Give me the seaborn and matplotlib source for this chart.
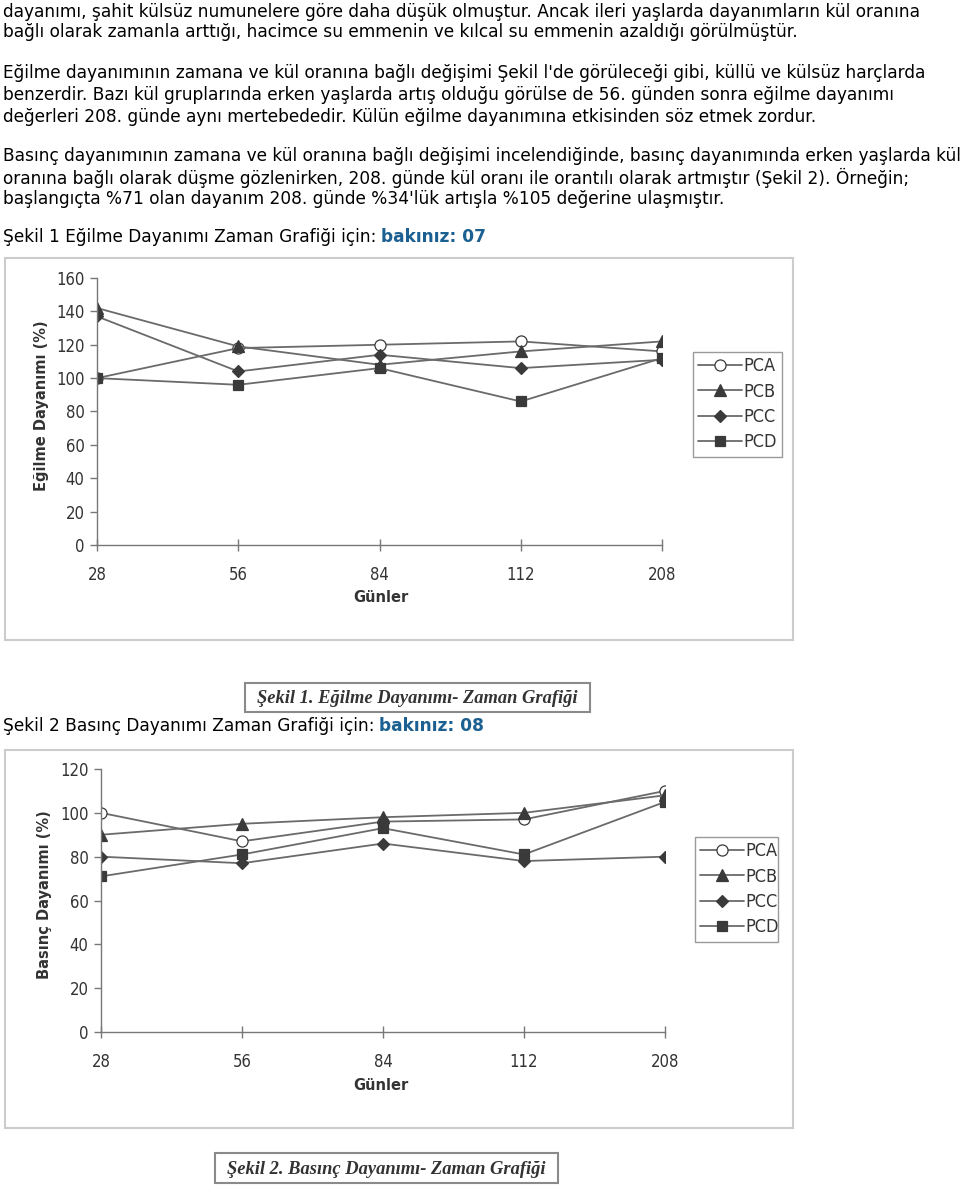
import numpy as np
import pandas as pd
import matplotlib
matplotlib.use("Agg")
import matplotlib.pyplot as plt
import seaborn as sns
from matplotlib.patches import Rectangle

W, H = 960, 1191

# Days (categorical x axis)
gunler = ["28", "56", "84", "112", "208"]
seriler = ["PCA", "PCB", "PCC", "PCD"]

# Şekil 1 - Eğilme dayanımı (%)
egilme_pca = [100, 118, 120, 122, 116]
egilme_pcb = [142, 119, 108, 116, 122]
egilme_pcc = [137, 104, 114, 106, 111]
egilme_pcd = [100, 96, 106, 86, 112]

# Şekil 2 - Basınç dayanımı (%)
basinc_pca = [100, 87, 96, 97, 110]
basinc_pcb = [90, 95, 98, 100, 108]
basinc_pcc = [80, 77, 86, 78, 80]
basinc_pcd = [71, 81, 93, 81, 105]

paragraphs = [
    (12, "dayanımı, şahit külsüz numunelere göre daha düşük olmuştur. Ancak ileri yaşlarda dayanımların kül oranına"),
    (32, "bağlı olarak zamanla arttığı, hacimce su emmenin ve kılcal su emmenin azaldığı görülmüştür."),
    (73, "Eğilme dayanımının zamana ve kül oranına bağlı değişimi Şekil l'de görüleceği gibi, küllü ve külsüz harçlarda"),
    (95, "benzerdir. Bazı kül gruplarında erken yaşlarda artış olduğu görülse de 56. günden sonra eğilme dayanımı"),
    (117, "değerleri 208. günde aynı mertebededir. Külün eğilme dayanımına etkisinden söz etmek zordur."),
    (156, "Basınç dayanımının zamana ve kül oranına bağlı değişimi incelendiğinde, basınç dayanımında erken yaşlarda kül"),
    (178, "oranına bağlı olarak düşme gözlenirken, 208. günde kül oranı ile orantılı olarak artmıştır (Şekil 2). Örneğin;"),
    (199, "başlangıçta %71 olan dayanım 208. günde %34'lük artışla %105 değerine ulaşmıştır."),
]

sns.set_theme(style="white")
plt.rcParams["font.family"] = ["DejaVu Sans"]

fig = plt.figure(figsize=(W / 100, H / 100), dpi=100)


def fx(x):
    return x / W


def fy(y):
    return 1 - y / H


BODY_SIZE = 12.25
body = dict(fontsize=BODY_SIZE, color="black", va="center", ha="left", family="DejaVu Sans")
for y, line in paragraphs:
    fig.text(fx(3), fy(y), line, **body)


def link_line(y, label, link):
    t = fig.text(fx(3), fy(y), label, **body)
    fig.canvas.draw()
    bb = t.get_window_extent()
    fig.text(bb.x1 / W + fx(5), fy(y), link, fontsize=BODY_SIZE, color="#1c5f91",
             fontweight="bold", va="center", ha="left", family="DejaVu Sans")


link_line(237, "Şekil 1 Eğilme Dayanımı Zaman Grafiği için:", "bakınız: 07")
link_line(726, "Şekil 2 Basınç Dayanımı Zaman Grafiği için:", "bakınız: 08")

narrow = dict(family="DejaVu Sans", stretch="condensed")
line_col = "#6a6a6a"
mark_col = "#3a3a3a"
styles = {
    "PCA": dict(marker="o", markerfacecolor="white", markersize=8),
    "PCB": dict(marker="^", markerfacecolor=mark_col, markersize=8),
    "PCC": dict(marker="D", markerfacecolor=mark_col, markersize=6),
    "PCD": dict(marker="s", markerfacecolor=mark_col, markersize=7.5),
}


def chart(left, right, top, bottom, ymax, ystep, values, ylabel, ylab_x, leg_box, frame):
    # scanned picture frame
    fx0, fy0, fx1, fy1 = frame
    fig.patches.append(Rectangle((fx(fx0), fy(fy1)), fx(fx1 - fx0), (fy1 - fy0) / H,
                                 transform=fig.transFigure, fill=False,
                                 edgecolor="#cccccc", linewidth=1.5))
    ax = fig.add_axes([fx(left), fy(bottom), fx(right - left), (bottom - top) / H])
    df = pd.DataFrame({
        "Günler": gunler * len(seriler),
        "Değer": np.concatenate(values),
        "Seri": np.repeat(seriler, len(gunler)),
    })
    for s in seriler:
        sns.lineplot(data=df[df["Seri"] == s], x="Günler", y="Değer", ax=ax,
                     color=line_col, linewidth=1.3, markeredgecolor=mark_col,
                     markeredgewidth=0.9, label=s, **styles[s])
    ax.set_xlim(0, len(gunler) - 1)
    ax.set_ylim(0, ymax)
    ax.set_yticks(np.arange(0, ymax + 1, ystep))
    ax.set_facecolor("none")
    for sp in ["top", "right"]:
        ax.spines[sp].set_visible(False)
    for sp in ["left", "bottom"]:
        ax.spines[sp].set_color("#777777")
        ax.spines[sp].set_linewidth(1.0)
    ax.tick_params(axis="x", direction="inout", length=8, width=1, color="#777777",
                   pad=11, labelsize=12, labelcolor="#333333", bottom=True)
    ax.tick_params(axis="y", direction="out", length=5, width=1, color="#777777",
                   pad=4, labelsize=12, labelcolor="#333333", left=True)
    for lab in ax.get_xticklabels() + ax.get_yticklabels():
        lab.set_family(narrow["family"])
        lab.set_stretch(narrow["stretch"])
    ax.set_xlabel("")
    ax.set_ylabel("")
    fig.text(fx(381), fy(bottom + 53), "Günler", fontsize=10.5, fontweight="bold",
             color="#333333", ha="center", va="center", family="DejaVu Sans")
    fig.text(fx(ylab_x), (fy(top) + fy(bottom)) / 2 + 0.005, ylabel, fontsize=10.5,
             fontweight="bold", color="#333333", rotation=90, ha="center", va="center",
             family="DejaVu Sans")
    lx0, ly0, lx1, ly1 = leg_box
    leg = ax.legend(loc="upper left", bbox_to_anchor=(fx(lx0), fy(ly0), fx(lx1 - lx0), (ly1 - ly0) / H),
                    bbox_transform=fig.transFigure, mode="expand", frameon=True, fancybox=False,
                    edgecolor="#9a9a9a", framealpha=1, borderpad=0.3, labelspacing=0.4,
                    handlelength=2.4, handletextpad=0.1, borderaxespad=0,
                    prop={"family": narrow["family"], "stretch": narrow["stretch"], "size": 13})
    leg.get_frame().set_linewidth(1.0)
    for t in leg.get_texts():
        t.set_color("#333333")
    return ax


chart(97, 662, 278, 545, 160, 20,
      [egilme_pca, egilme_pcb, egilme_pcc, egilme_pcd],
      "Eğilme Dayanımı (%)", 42, (693, 452, 782, 552), (5, 258, 793, 640))
chart(101, 665, 769, 1032, 120, 20,
      [basinc_pca, basinc_pcb, basinc_pcc, basinc_pcd],
      "Basınç Dayanımı (%)", 45, (695, 937, 778, 1037), (5, 750, 793, 1128))


def caption(x0, y0, x1, y1, text):
    fig.patches.append(Rectangle((fx(x0), fy(y1)), fx(x1 - x0), (y1 - y0) / H,
                                 transform=fig.transFigure, fill=False,
                                 edgecolor="#8a8a8a", linewidth=1.5))
    fig.text(fx((x0 + x1) / 2), fy((y0 + y1) / 2 + 1), text, fontsize=13.3,
             fontstyle="italic", fontweight="bold", color="#333333",
             ha="center", va="center", family=["Liberation Serif", "DejaVu Serif"])


caption(245, 683, 590, 712, "Şekil 1. Eğilme Dayanımı- Zaman Grafiği")
caption(215, 1153, 558, 1183, "Şekil 2. Basınç Dayanımı- Zaman Grafiği")

fig.savefig("out.png", dpi=100)
